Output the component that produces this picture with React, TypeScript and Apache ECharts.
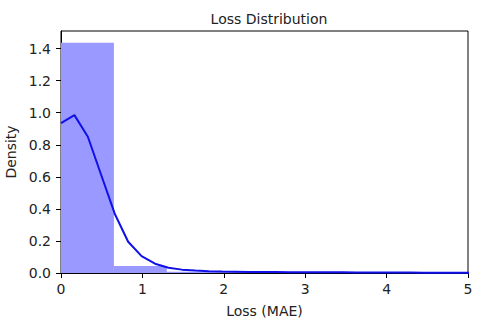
import React, { useEffect, useRef } from "react";
import * as echarts from "echarts";

const binStart = 0;
const binWidth = 0.65;
const binHeights = [1.437, 0.044, 0.008, 0.004, 0.003, 0.002, 0.002, 0.001];

const kdeX = [0, 0.165, 0.33, 0.495, 0.66, 0.825, 0.99, 1.155, 1.32, 1.485, 1.65, 1.815, 1.98, 2.145, 2.31, 2.475, 2.64, 2.805, 2.97, 3.135, 3.3, 3.465, 3.63, 3.795, 3.96, 4.125, 4.29, 4.455, 4.62, 4.785, 4.95, 5.115];
const kdeY = [0.935, 0.985, 0.85, 0.61, 0.37, 0.195, 0.105, 0.058, 0.033, 0.021, 0.015, 0.011, 0.009, 0.008, 0.007, 0.006, 0.006, 0.005, 0.005, 0.004, 0.004, 0.004, 0.003, 0.003, 0.003, 0.003, 0.003, 0.002, 0.002, 0.002, 0.002, 0.002];

const yTicks = [0, 0.2, 0.4, 0.6, 0.8, 1.0, 1.2, 1.4];
const xTicks = [0, 1, 2, 3, 4, 5];

const FONT = "DejaVu Sans";
const TXT = "#222";
const FS = 14;

export default function App() {
  const ref = useRef<HTMLDivElement>(null);
  useEffect(() => {
    if (!ref.current) return;
    const chart = echarts.init(ref.current, null, { renderer: "svg" });
    const histData = binHeights.map((h, i) => [binStart + i * binWidth, binStart + (i + 1) * binWidth, h]);
    const kdeData = kdeX.map((x, i) => [x, kdeY[i]]);
    chart.setOption({
      animation: false,
      backgroundColor: "#fff",
      title: {
        text: "Loss Distribution",
        left: 264,
        top: 7,
        textAlign: "center",
        textStyle: { fontFamily: FONT, fontSize: FS, fontWeight: "normal", color: TXT },
      },
      grid: {
        left: 61,
        right: 12,
        top: 31,
        bottom: 48,
        show: true,
        borderColor: "#000",
        borderWidth: 1,
        backgroundColor: "transparent",
        containLabel: false,
        outerBoundsMode: "none",
      },
      xAxis: {
        type: "value",
        min: 0,
        max: 5,
        interval: 1,
        name: "Loss (MAE)",
        nameLocation: "middle",
        nameGap: 31,
        nameTextStyle: { fontFamily: FONT, fontSize: FS, color: TXT },
        axisLine: { show: true, onZero: false, lineStyle: { color: "#000", width: 1 } },
        axisTick: { show: true, length: 5, lineStyle: { color: "#000" }, customValues: xTicks },
        axisLabel: { fontFamily: FONT, fontSize: FS, color: TXT, margin: 9, customValues: xTicks },
        splitLine: { show: false },
      },
      yAxis: {
        type: "value",
        min: 0,
        max: 1.51,
        interval: 0.2,
        name: "Density",
        nameLocation: "middle",
        nameGap: 40,
        nameTextStyle: { fontFamily: FONT, fontSize: FS, color: TXT },
        axisLine: { show: true, onZero: false, lineStyle: { color: "#000", width: 1 } },
        axisTick: { show: true, length: 5, lineStyle: { color: "#000" }, customValues: yTicks },
        axisLabel: {
          fontFamily: FONT,
          fontSize: FS,
          color: TXT,
          margin: 10,
          customValues: yTicks,
          formatter: (v: number) => v.toFixed(1),
        },
        splitLine: { show: false },
      },
      series: [
        {
          type: "custom",
          clip: true,
          data: histData,
          encode: { x: [0, 1], y: 2 },
          renderItem: (params: any, api: any) => {
            const p0 = api.coord([api.value(0), api.value(2)]);
            const p1 = api.coord([api.value(1), 0]);
            return {
              type: "rect",
              shape: { x: p0[0], y: p0[1], width: p1[0] - p0[0], height: p1[1] - p0[1] },
              style: { fill: "#9999ff" },
            };
          },
          z: 1,
        },
        {
          type: "line",
          data: kdeData,
          showSymbol: false,
          clip: true,
          lineStyle: { color: "#1010e8", width: 2 },
          itemStyle: { color: "#1010e8" },
          z: 2,
        },
      ],
    });
    return () => chart.dispose();
  }, []);
  return <div ref={ref} style={{ position: "fixed", left: 0, top: 0, width: 480, height: 321 }} />;
}
